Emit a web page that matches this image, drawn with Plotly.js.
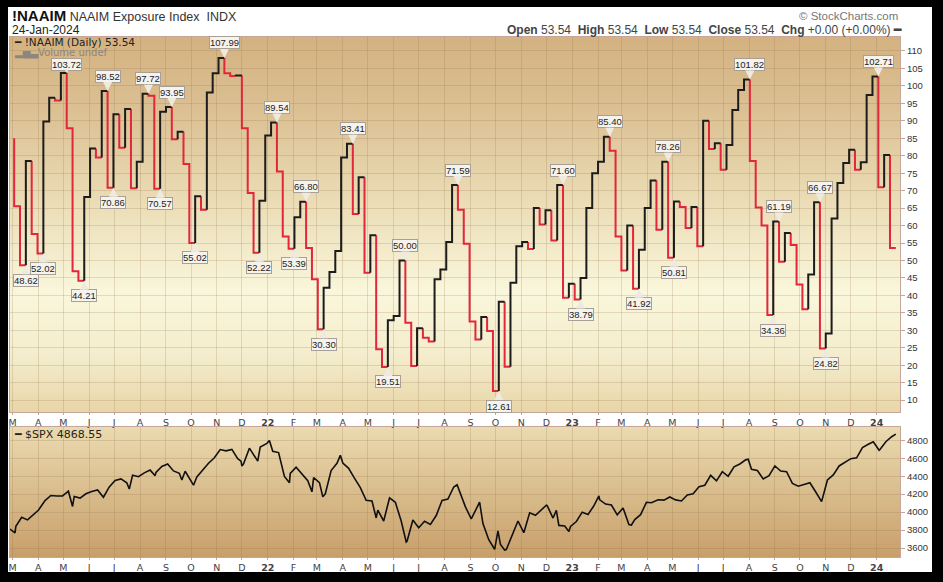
<!DOCTYPE html>
<html><head><meta charset="utf-8">
<script src="https://cdn.plot.ly/plotly-3.0.1.min.js"></script>
<style>
html,body{margin:0;padding:0;background:#000;width:943px;height:582px;overflow:hidden;}
#chart{position:absolute;left:8px;top:7px;width:924px;height:565px;background:#fff;}
</style></head><body><div id="chart"></div>
<script>
// ---------- DATA ----------
const naaimFirstDate = '2021-03-03';   // weekly (Wednesday) NAAIM readings
const naaimValues = [
  85.0, 65.5, 48.62, 78.5, 57.6, 52.02, 89.8, 96.6, 95.8, 103.72,
  87.9, 46.9, 44.21, 68.2, 82.1, 79.5, 98.52, 70.86, 91.9, 82.3,
  93.4, 70.7, 78.3, 97.72, 97.2, 70.57, 92.6, 93.95, 84.7, 86.9,
  77.6, 55.02, 68.4, 64.5, 98.1, 103.6, 107.99, 103.6, 102.8, 103.0,
  87.9, 69.3, 52.22, 67.1, 85.8, 89.54, 75.5, 56.9, 53.39, 62.4,
  66.80, 53.6, 44.6, 30.30, 42.2, 46.7, 52.7, 79.5, 83.41, 63.3,
  73.8, 46.5, 57.2, 24.6, 19.51, 32.9, 34.1, 50.00, 32.2, 19.8,
  30.6, 27.9, 26.8, 44.6, 47.4, 55.3, 71.59, 64.5, 54.8, 32.5,
  27.4, 33.8, 29.8, 12.61, 38.2, 19.6, 43.6, 54.1, 55.3, 53.3,
  65.0, 60.3, 64.4, 55.7, 71.60, 39.3, 43.3, 38.79, 45.0, 65.0,
  75.0, 78.3, 85.40, 81.4, 56.9, 47.1, 60.0, 41.92, 53.1, 65.0,
  72.9, 58.8, 78.26, 50.81, 66.9, 65.3, 59.3, 65.3, 54.1, 90.0,
  81.9, 83.6, 76.0, 83.1, 93.1, 98.8, 101.82, 78.5, 65.2, 60.0,
  34.36, 61.19, 49.6, 57.9, 54.4, 43.1, 36.0, 46.0, 66.67, 24.82,
  29.1, 62.0, 72.2, 77.9, 81.7, 76.0, 78.1, 97.4, 102.71, 71.0,
  80.2, 53.54
];
const peakIdx   = [9,16,23,27,36,45,50,58,67,76,94,102,112,126,131,138,148];
const troughIdx = [2,5,12,17,25,31,42,48,53,64,83,97,107,113,130,139];

const spxDates = [
 '2021-02-26','2021-03-04','2021-03-05','2021-03-12','2021-03-19','2021-03-26','2021-04-01','2021-04-09','2021-04-16','2021-04-23',
 '2021-04-30','2021-05-07','2021-05-12','2021-05-14','2021-05-21','2021-05-28','2021-06-04','2021-06-11','2021-06-18','2021-06-25',
 '2021-07-02','2021-07-09','2021-07-16','2021-07-19','2021-07-23','2021-07-30','2021-08-06','2021-08-13','2021-08-19','2021-08-20',
 '2021-08-27','2021-09-03','2021-09-10','2021-09-17','2021-09-20','2021-09-24','2021-10-01','2021-10-04','2021-10-08','2021-10-15',
 '2021-10-22','2021-10-29','2021-11-05','2021-11-12','2021-11-19','2021-11-26','2021-11-30','2021-12-01','2021-12-03','2021-12-10',
 '2021-12-17','2021-12-20','2021-12-23','2021-12-31','2022-01-03','2022-01-07','2022-01-14','2022-01-21','2022-01-27','2022-01-28',
 '2022-02-04','2022-02-11','2022-02-18','2022-02-23','2022-02-25','2022-03-04','2022-03-08','2022-03-11','2022-03-18','2022-03-25',
 '2022-03-29','2022-04-01','2022-04-08','2022-04-14','2022-04-22','2022-04-29','2022-05-06','2022-05-11','2022-05-13','2022-05-20',
 '2022-05-27','2022-06-03','2022-06-10','2022-06-16','2022-06-17','2022-06-24','2022-07-01','2022-07-08','2022-07-15','2022-07-22',
 '2022-07-29','2022-08-05','2022-08-12','2022-08-16','2022-08-19','2022-08-26','2022-09-02','2022-09-09','2022-09-12','2022-09-16',
 '2022-09-23','2022-09-30','2022-10-04','2022-10-07','2022-10-12','2022-10-14','2022-10-21','2022-10-28','2022-11-04','2022-11-11',
 '2022-11-18','2022-11-25','2022-12-01','2022-12-02','2022-12-09','2022-12-13','2022-12-16','2022-12-23','2022-12-28','2022-12-30',
 '2023-01-06','2023-01-13','2023-01-20','2023-01-27','2023-02-02','2023-02-03','2023-02-10','2023-02-17','2023-02-24','2023-03-03',
 '2023-03-10','2023-03-13','2023-03-17','2023-03-24','2023-03-31','2023-04-06','2023-04-14','2023-04-21','2023-04-28','2023-05-05',
 '2023-05-12','2023-05-19','2023-05-26','2023-06-02','2023-06-09','2023-06-16','2023-06-23','2023-06-30','2023-07-07','2023-07-14',
 '2023-07-21','2023-07-28','2023-07-31','2023-08-04','2023-08-11','2023-08-18','2023-08-25','2023-09-01','2023-09-08','2023-09-15',
 '2023-09-22','2023-09-29','2023-10-06','2023-10-13','2023-10-20','2023-10-27','2023-11-03','2023-11-10','2023-11-17','2023-11-24',
 '2023-12-01','2023-12-08','2023-12-15','2023-12-22','2023-12-28','2023-12-29','2024-01-04','2024-01-05','2024-01-12','2024-01-19',
 '2024-01-24'
];
const spxValues = [
 3811,3768,3842,3943,3913,3975,4020,4129,4185,4180,
 4181,4233,4063,4174,4156,4204,4230,4247,4166,4281,
 4352,4370,4327,4258,4412,4395,4437,4468,4406,4442,
 4509,4535,4459,4433,4358,4455,4357,4300,4391,4471,
 4545,4605,4697,4682,4698,4595,4567,4513,4538,4712,
 4620,4568,4726,4766,4797,4677,4663,4398,4327,4432,
 4500,4419,4349,4226,4385,4329,4171,4204,4463,4543,
 4632,4546,4488,4392,4272,4132,4123,3935,4023,3901,
 4158,4109,3901,3667,3675,3912,3825,3899,3863,3962,
 4130,4145,4280,4305,4228,4058,3924,4067,4110,3873,
 3693,3586,3791,3639,3577,3583,3753,3901,3771,3993,
 3965,4026,4077,4072,3934,4019,3852,3845,3783,3840,
 3895,3999,3973,4071,4180,4136,4090,4079,3970,4046,
 3862,3856,3917,3971,4109,4105,4137,4133,4169,4136,
 4124,4192,4205,4282,4299,4409,4348,4450,4399,4505,
 4536,4582,4589,4478,4464,4370,4406,4515,4457,4450,
 4320,4288,4308,4327,4224,4117,4358,4415,4514,4559,
 4595,4604,4719,4755,4783,4770,4689,4697,4784,4840,
 4868.55
];

const monthTicks = [
 '2021-03-01','2021-04-01','2021-05-01','2021-06-01','2021-07-01','2021-08-01','2021-09-01','2021-10-01','2021-11-01','2021-12-01',
 '2022-01-01','2022-02-01','2022-03-01','2022-04-01','2022-05-01','2022-06-01','2022-07-01','2022-08-01','2022-09-01','2022-10-01',
 '2022-11-01','2022-12-01','2023-01-01','2023-02-01','2023-03-01','2023-04-01','2023-05-01','2023-06-01','2023-07-01','2023-08-01',
 '2023-09-01','2023-10-01','2023-11-01','2023-12-01','2024-01-01'
];
const monthLabels = [
 'M','A','M','J','J','A','S','O','N','D',
 '<b>22</b>','F','M','A','M','J','J','A','S','O',
 'N','D','<b>23</b>','F','M','A','M','J','J','A',
 'S','O','N','D','<b>24</b>'
];
const naaimTicks = [10,15,20,25,30,35,40,45,50,55,60,65,70,75,80,85,90,95,100,105,110];
const spxTicks = [3600,3800,4000,4200,4400,4600,4800];

// ---------- BUILD ----------
const DAY = 86400000;
const base = Date.parse(naaimFirstDate + 'T00:00:00Z');
const naaimDates = naaimValues.map((_, i) => new Date(base + i * 7 * DAY).toISOString().slice(0, 10));

const redSeg = {x: [], y: []}, blackSeg = {x: [], y: []};
let prevDown = null;
for (let k = 1; k < naaimValues.length; k++) {
  const down = naaimValues[k] < naaimValues[k - 1];
  const t = down ? redSeg : blackSeg;
  if (prevDown !== down) {
    if (t.x.length) { t.x.push(null); t.y.push(null); }
    t.x.push(naaimDates[k - 1]); t.y.push(naaimValues[k - 1]);
  }
  t.x.push(naaimDates[k - 1], naaimDates[k]);
  t.y.push(naaimValues[k], naaimValues[k]);
  prevDown = down;
}

function gradURL(stops) {
  const c = document.createElement('canvas'); c.width = 4; c.height = 400;
  const g = c.getContext('2d'); const lg = g.createLinearGradient(0, 0, 0, 400);
  stops.forEach(s => lg.addColorStop(s[0], s[1]));
  g.fillStyle = lg; g.fillRect(0, 0, 4, 400); return c.toDataURL();
}

const topDom = [0.2788, 1], botDom = [0, 0.25];
const gridCol = 'rgba(140,105,65,0.20)';
const border = '#c6a59a';
const xRange = ['2021-02-26', '2024-01-29'];

const traces = [
  {x: redSeg.x, y: redSeg.y, xaxis: 'x', yaxis: 'y', mode: 'lines', line: {color: '#e2263b', width: 2}, hoverinfo: 'skip'},
  {x: blackSeg.x, y: blackSeg.y, xaxis: 'x', yaxis: 'y', mode: 'lines', line: {color: '#1c1c1c', width: 2}, hoverinfo: 'skip'},
  {x: spxDates, y: spxValues, xaxis: 'x2', yaxis: 'y2', mode: 'lines', line: {color: '#111', width: 1.6}, hoverinfo: 'skip'}
];

function xAxis(anchor) {
  return {type: 'date', range: xRange, anchor: anchor, tickmode: 'array', tickvals: monthTicks, ticktext: monthLabels,
    showgrid: true, gridcolor: gridCol, gridwidth: 1, showline: true, linecolor: border, linewidth: 1, mirror: true,
    ticks: 'outside', ticklen: 2, tickcolor: border, zeroline: false, fixedrange: true,
    tickfont: {family: 'DejaVu Sans', size: 9.5, color: '#444'}};
}
function yAxis(dom, range, vals, anchor) {
  return {domain: dom, range: range, side: 'right', anchor: anchor, tickmode: 'array', tickvals: vals,
    showgrid: true, gridcolor: gridCol, gridwidth: 1, showline: true, linecolor: border, linewidth: 1, mirror: true,
    ticks: 'outside', ticklen: 4, tickcolor: border, zeroline: false, fixedrange: true,
    tickfont: {family: 'Liberation Sans', size: 9.5, color: '#333'}};
}

const annotations = [];
function valueLabel(i, above) {
  // the first peak sits right under the legend rows: keep its box tight to the line
  const tight = (i === peakIdx[0]);
  annotations.push({x: naaimDates[i], y: naaimValues[i], xref: 'x', yref: 'y',
    text: naaimValues[i].toFixed(2), showarrow: true, arrowhead: 2,
    arrowsize: tight ? 0.6 : 1.2, arrowwidth: tight ? 1.2 : 1.5,
    arrowcolor: '#efeae0', standoff: 0, ax: 0, ay: above ? (tight ? -8 : -15) : 15,
    font: {family: 'Liberation Sans', size: 9.5, color: '#222'},
    bgcolor: '#f6f3ec', bordercolor: '#a8a096', borderwidth: 1, borderpad: 0});
}
peakIdx.forEach(i => valueLabel(i, true));
troughIdx.forEach(i => valueLabel(i, false));

const P = y => (550 - y) / 520;  // container pixel row -> paper fraction
annotations.push(
  {xref: 'paper', yref: 'paper', x: 0, y: P(9), xanchor: 'left', yanchor: 'middle', showarrow: false,
   text: '<span style="font-size:15px;font-weight:bold;color:#111">!NAAIM</span><span style="font-size:12.5px;color:#333"> NAAIM Exposure Index\u00a0\u00a0INDX</span>',
   font: {family: 'Liberation Sans', size: 12, color: '#333'}},
  {xref: 'paper', yref: 'paper', x: 0, y: P(23), xanchor: 'left', yanchor: 'middle', showarrow: false,
   text: '24-Jan-2024', font: {family: 'Liberation Sans', size: 12, color: '#222'}},
  {xref: 'paper', yref: 'paper', x: 1, y: P(9), xanchor: 'right', yanchor: 'middle', showarrow: false,
   text: '\u00a9 StockCharts.com', font: {family: 'Liberation Sans', size: 11.5, color: '#777'}},
  {xref: 'paper', yref: 'paper', x: 1.004, y: P(23), xanchor: 'right', yanchor: 'middle', showarrow: false,
   text: '<b>Open</b> 53.54\u00a0\u00a0<b>High</b> 53.54\u00a0\u00a0<b>Low</b> 53.54\u00a0\u00a0<b>Close</b> 53.54\u00a0\u00a0<b>Chg</b> +0.00 (+0.00%) <b>\u2501</b>',
   font: {family: 'Liberation Sans', size: 12, color: '#444'}},
  {xref: 'paper', yref: 'paper', x: 0.002, y: P(35), xanchor: 'left', yanchor: 'middle', showarrow: false,
   text: '\u2501 !NAAIM (Daily) 53.54', font: {family: 'DejaVu Sans', size: 10.5, color: '#222'}},
  {xref: 'paper', yref: 'paper', x: 0.002, y: P(46), xanchor: 'left', yanchor: 'middle', showarrow: false,
   text: '\u2582\u2585\u2583Volume undef', font: {family: 'DejaVu Sans', size: 10, color: '#8c8680'}},
  {xref: 'paper', yref: 'paper', x: 0.002, y: P(427), xanchor: 'left', yanchor: 'middle', showarrow: false,
   text: '\u2501 $SPX 4868.55', font: {family: 'DejaVu Sans', size: 11, color: '#222'}}
);

const layout = {
  width: 924, height: 565,
  margin: {l: 2, r: 32, t: 30, b: 15},
  paper_bgcolor: '#ffffff', plot_bgcolor: 'rgba(0,0,0,0)',
  showlegend: false,
  font: {family: 'Liberation Sans, Arial, sans-serif', size: 10, color: '#333'},
  xaxis: xAxis('y'),
  yaxis: yAxis(topDom, [6.6, 114.0], naaimTicks, 'x'),
  xaxis2: xAxis('y2'),
  yaxis2: yAxis(botDom, [3500, 4948], spxTicks, 'x2'),
  annotations: annotations,
  images: [
    {source: gradURL([[0, '#d4b281'], [0.2, '#dcc194'], [0.45, '#ecdeb8'], [0.68, '#faf7dc'], [0.85, '#f4edcd'], [1, '#e9d6a8']]),
     xref: 'paper', yref: 'paper', x: 0, y: 1, sizex: 1, sizey: 1 - topDom[0],
     xanchor: 'left', yanchor: 'top', sizing: 'stretch', layer: 'below'},
    {source: gradURL([[0, '#ebdbb0'], [1, '#c89f6a']]),
     xref: 'paper', yref: 'paper', x: 0, y: botDom[1], sizex: 1, sizey: botDom[1],
     xanchor: 'left', yanchor: 'top', sizing: 'stretch', layer: 'below'}
  ]
};

Plotly.newPlot('chart', traces, layout, {staticPlot: true, displayModeBar: false});
</script>
</body></html>
